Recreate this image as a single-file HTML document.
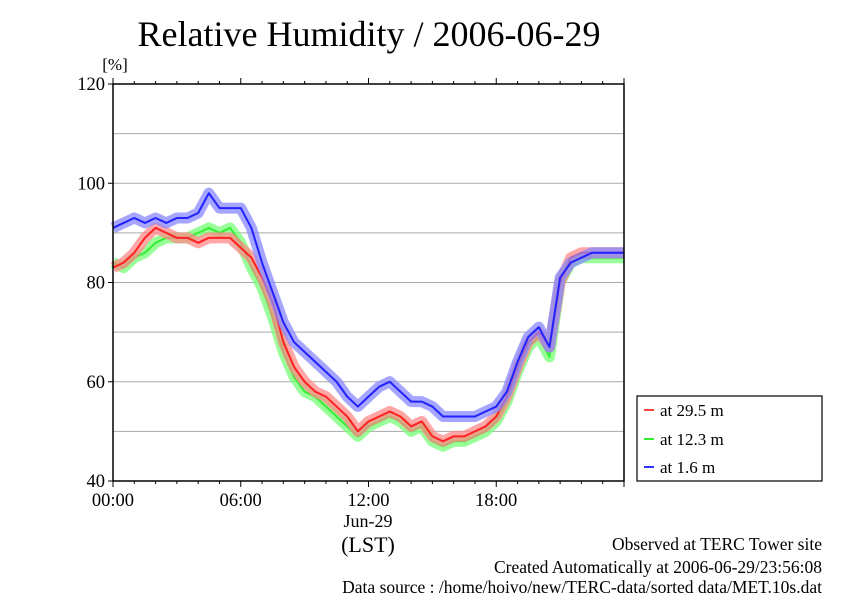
<!DOCTYPE html>
<html><head><meta charset="utf-8"><style>
body{margin:0;background:#fff;width:842px;height:595px;overflow:hidden}
svg text{font-family:"Liberation Serif",serif;fill:#000}
</style></head><body>
<svg id="chart" width="842" height="595" xmlns="http://www.w3.org/2000/svg">
<text x="369" y="46" font-size="36" text-anchor="middle">Relative Humidity / 2006-06-29</text>
<text x="115" y="70" font-size="17" text-anchor="middle">[%]</text>
<g id="grid"></g><g id="series"></g><g id="axes"></g>
<rect x="113" y="84" width="511" height="397" fill="none" stroke="#000" stroke-width="1.5"/>
<text x="368" y="527" font-size="18" text-anchor="middle">Jun-29</text>
<text x="368" y="552" font-size="22" text-anchor="middle">(LST)</text>
<g>
<rect x="637" y="396" width="185" height="85" fill="#fff" stroke="#000" stroke-width="1.2"/>
<g><line x1="644" y1="410" x2="654" y2="410" stroke="#f44" stroke-width="2"/><text x="660" y="416" font-size="17">at 29.5 m</text></g>
<g><line x1="644" y1="439" x2="654" y2="439" stroke="#3e3" stroke-width="2"/><text x="660" y="445" font-size="17">at 12.3 m</text></g>
<g><line x1="644" y1="467" x2="654" y2="467" stroke="#33f" stroke-width="2"/><text x="660" y="473" font-size="17">at 1.6 m</text></g>
</g>
<g font-size="17.5">
<text x="822" y="550" text-anchor="end">Observed at TERC Tower site</text>
<text x="822" y="573" text-anchor="end">Created Automatically at 2006-06-29/23:56:08</text>
<text x="822" y="596" text-anchor="end" dy="-3">Data source : /home/hoivo/new/TERC-data/sorted  data/MET.10s.dat</text>
</g>
</svg>
<script>
const hours=[0,0.5,1,1.5,2,2.5,3,3.5,4,4.5,5,5.5,6,6.5,7,7.5,8,8.5,9,9.5,10,10.5,11,11.5,12,12.5,13,13.5,14,14.5,15,15.5,16,16.5,17,17.5,18,18.5,19,19.5,20,20.5,21,21.5,22,22.5,23,23.5,24];
const rh29=[83,84,86,89,91,90,89,89,88,89,89,89,87,85,81,76,68,63,60,58,57,55,53,50,52,53,54,53,51,52,49,48,49,49,50,51,53,57,63,68,70,67,80,85,86,86,86,86,86];
const rh12=[84,83,85,86,88,89,89,89,90,91,90,91,88,83,79,73,66,61,58,57,55,53,51,49,51,52,53,52,50,51,48,47,48,48,49,50,52,56,62,67,69,65,80,84,85,85,85,85,85];
const rh16=[91,92,93,92,93,92,93,93,94,98,95,95,95,91,84,78,72,68,66,64,62,60,57,55,57,59,60,58,56,56,55,53,53,53,53,54,55,58,64,69,71,67,81,84,85,86,86,86,86];
const yTicks=[40,60,80,100,120];
const xTicks=["00:00","06:00","12:00","18:00"];
const X=h=>113+h*511/24, Y=v=>481-(v-40)*397/80;
const NS="http://www.w3.org/2000/svg";
function mk(t,a,p){const e=document.createElementNS(NS,t);for(const k in a)e.setAttribute(k,a[k]);p.appendChild(e);return e;}
const grid=document.getElementById('grid'),axes=document.getElementById('axes'),ser=document.getElementById('series');
for(let v=50;v<120;v+=10){const l=mk('line',{x1:113,x2:624,y1:Y(v),y2:Y(v),stroke:'#aaa','stroke-width':1},grid);

}
yTicks.forEach(v=>{const t=mk('text',{x:105,y:Y(v)+6,'font-size':18.5,'text-anchor':'end'},axes);t.textContent=v;


mk('line',{x1:108,x2:113,y1:Y(v),y2:Y(v),stroke:'#000'},axes);});
for(let h=0;h<=24;h++){const len=h%6==0?6:3;mk('line',{x1:X(h),x2:X(h),y1:481,y2:481+len,stroke:'#000'},axes);mk('line',{x1:X(h),x2:X(h),y1:84,y2:84-len,stroke:'#000'},axes);}
xTicks.forEach((s,i)=>{const t=mk('text',{x:X(i*6),y:506,'font-size':18.5,'text-anchor':'middle'},axes);t.textContent=s;

});
[[rh12,'#3e3','#7f7'],[rh29,'#f22','#f88'],[rh16,'#22f','#88f']].forEach(([d,c,b],i)=>{
const pts=d.map((v,j)=>X(hours[j])+','+Y(v)).join(' ');
const band=mk('polyline',{points:pts,fill:'none',stroke:b,'stroke-width':11,'stroke-linejoin':'round','opacity':0.75},ser);


const line=mk('polyline',{points:pts,fill:'none',stroke:c,'stroke-width':2,'stroke-linejoin':'round'},ser);

});
</script>
</body></html>
